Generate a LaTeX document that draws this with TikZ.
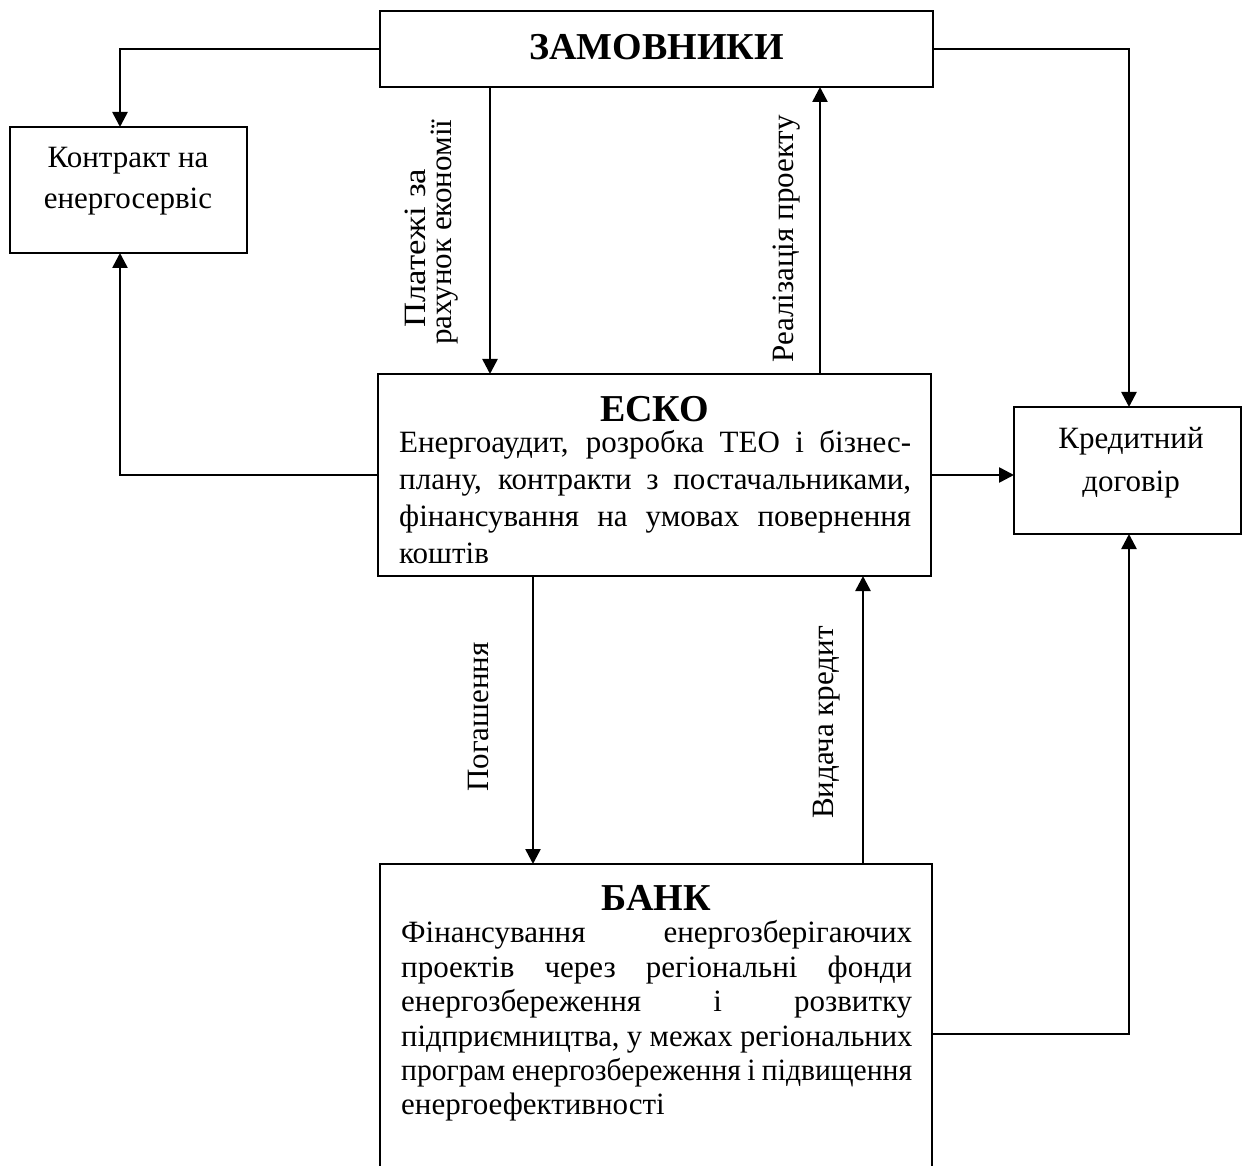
\documentclass[tikz,border=0pt]{standalone}
\usepackage{fontspec}
\setmainfont{Liberation Serif}
\usetikzlibrary{arrows.meta}
\newcommand\bodytxt{\fontsize{31}{37}\selectfont}
\newcommand\headtxt{\fontsize{38}{44}\selectfont\bfseries}
\begin{document}
\begin{tikzpicture}[x=1pt,y=-1pt,
  box/.style={draw, line width=2pt, inner sep=0pt, outer sep=0pt},
  arr/.style={line width=2.6pt, -{Triangle[length=15pt,width=15pt]}},
  txt/.style={inner sep=0pt, font=\bodytxt},
  head/.style={inner sep=0pt, font=\headtxt},
  vlab/.style={inner sep=0pt, font=\bodytxt, rotate=90, anchor=base west}]
\useasboundingbox (0,0) rectangle (1243,1166);
\clip (0,0) rectangle (1243,1166);

% boxes
\node[box, minimum width=553pt, minimum height=76pt]  (zam)      at (656.5,49)   {};
\node[box, minimum width=237pt, minimum height=126pt] (contract) at (128.5,190)  {};
\node[box, minimum width=227pt, minimum height=127pt] (credit)   at (1127.5,470.5) {};
\node[box, minimum width=553pt, minimum height=202pt] (esco)     at (654.5,475)  {};
\node[box, minimum width=552pt, minimum height=316pt] (bank)     at (656,1022)   {};

% box texts
\node[head, anchor=base] (zamT) at (656.5,60) {ЗАМОВНИКИ};
\node[txt, anchor=base] (contractT1) at (128,168) {Контракт на};
\node[txt, anchor=base] (contractT2) at (128,209) {енергосервіс};
\node[txt, anchor=base] (creditT1) at (1131,448) {Кредитний};
\node[txt, anchor=base] (creditT2) at (1131,491) {договір};

\node[head, anchor=base] (escoT) at (654.5,421) {ЕСКО};
\node[txt, anchor=base west] (escoL1) at (399,452) {\makebox[512pt][s]{Енергоаудит, розробка ТЕО і бізнес-}};
\node[txt, anchor=base west] (escoL2) at (399,489) {\makebox[512pt][s]{плану, контракти з постачальниками,}};
\node[txt, anchor=base west] (escoL3) at (399,526) {\makebox[512pt][s]{фінансування на умовах повернення}};
\node[txt, anchor=base west] (escoL4) at (399,563) {коштів};

\node[head, anchor=base] (bankT) at (656,910) {БАНК};
\node[txt, anchor=base west] (bankL1) at (401,942)  {\makebox[511pt][s]{Фінансування енергозберігаючих}};
\node[txt, anchor=base west] (bankL2) at (401,977)  {\makebox[511pt][s]{проектів через регіональні фонди}};
\node[txt, anchor=base west] (bankL3) at (401,1011) {\makebox[511pt][s]{енергозбереження і розвитку}};
\node[txt, anchor=base west] (bankL4) at (401,1046) {\scalebox{0.985}[1]{\makebox[519pt][s]{підприємництва, у межах регіональних}}};
\node[txt, anchor=base west] (bankL5) at (401,1080) {\scalebox{0.955}[1]{\makebox[535pt][s]{програм енергозбереження і підвищення}}};
\node[txt, anchor=base west] (bankL6) at (401,1114) {енергоефективності};

% column and row guides for the connectors
\coordinate (cL) at (120,0);
\coordinate (cR) at (1129,0);
\coordinate (cA) at (490,0);
\coordinate (cB) at (820,0);
\coordinate (cC) at (533,0);
\coordinate (cD) at (863,0);
\coordinate (rB) at (0,1034);

% connectors
\draw[arr] (zam.west) -| (cL |- contract.north);
\draw[arr] (zam.east) -| (cR |- credit.north);
\draw[arr] (cA |- zam.south) -- (cA |- esco.north);
\draw[arr] (cB |- esco.north) -- (cB |- zam.south);
\draw[arr] (esco.west) -| (cL |- contract.south);
\draw[arr] (esco.east) -- (esco.east -| credit.west);
\draw[arr] (cC |- esco.south) -- (cC |- bank.north);
\draw[arr] (cD |- bank.north) -- (cD |- esco.south);
\draw[arr] (bank.east |- rB) -| (cR |- credit.south);

% connector labels
\node[vlab] (lblPay1) at (425,328) {\scalebox{1.12}[1]{Платежі за}};
\node[vlab] (lblPay2) at (451,345) {рахунок економії};
\node[vlab] (lblReal) at (793,363) {Реалізація проекту};
\node[vlab] (lblRepay) at (488,792) {Погашення};
\node[vlab] (lblLoan) at (833,819) {Видача кредит};
\end{tikzpicture}
\end{document}
